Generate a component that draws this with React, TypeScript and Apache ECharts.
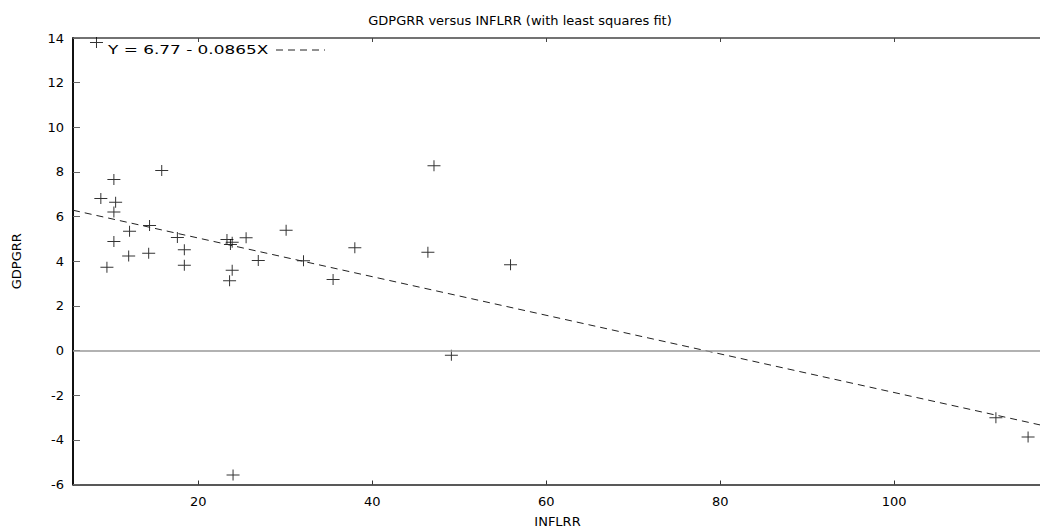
import React, { useEffect, useRef } from "react";
import * as echarts from "echarts";

const INFLRR = [8.3, 8.8, 10.3, 10.5, 10.3, 15.8, 14.4, 12.1, 10.3, 12.0, 14.3, 9.5, 17.6, 18.4, 18.4, 23.3, 23.9, 23.7, 25.5, 23.9, 23.6, 26.9, 30.1, 32.1, 35.5, 38.0, 47.1, 46.4, 55.9, 49.1, 111.7, 115.4, 24.0];
const GDPGRR = [13.8, 6.81, 7.66, 6.64, 6.21, 8.06, 5.6, 5.34, 4.88, 4.24, 4.36, 3.73, 5.06, 4.52, 3.82, 4.97, 4.85, 4.75, 5.05, 3.6, 3.13, 4.03, 5.39, 4.02, 3.18, 4.6, 8.28, 4.4, 3.84, -0.21, -3.01, -3.87, -5.58];
const X_TICKS = [20, 40, 60, 80, 100];
const X_MIN = 5.6;
const X_MAX = 117;
const Y_MIN = -6;
const Y_MAX = 14;
const FIT_INTERCEPT = 6.77;
const FIT_SLOPE = -0.0865;
const TITLE = "GDPGRR versus INFLRR (with least squares fit)";
const FIT_LABEL = "Y = 6.77 - 0.0865X";

const FONT = "DejaVu Sans";

export default function App() {
  const ref = useRef<HTMLDivElement>(null);
  useEffect(() => {
    if (!ref.current) return;
    const chart = echarts.init(ref.current, null, { renderer: "svg" });
    const points = INFLRR.map((x, i) => [x, GDPGRR[i]]);
    const fit = [X_MIN, X_MAX].map((x) => [x, FIT_INTERCEPT + FIT_SLOPE * x]);
    const axisLabelStyle = { color: "#000", fontFamily: FONT, fontSize: 13 };
    chart.setOption({
      animation: false,
      backgroundColor: "#fff",
      title: {
        text: TITLE,
        left: "center",
        top: 9,
        textStyle: { color: "#000", fontFamily: FONT, fontSize: 13, fontWeight: "normal" },
      },
      grid: { left: 73, right: -2, top: 38, bottom: 42.5, containLabel: false, outerBoundsMode: "none" },
      xAxis: [
        {
          type: "value",
          min: X_MIN,
          max: X_MAX,
          position: "bottom",
          name: "INFLRR",
          nameLocation: "middle",
          nameGap: 30,
          nameTextStyle: { color: "#000", fontFamily: FONT, fontSize: 13 },
          axisLine: { show: true, onZero: false, lineStyle: { color: "#222", width: 1.5 } },
          axisTick: { show: true, inside: true, length: 4, customValues: X_TICKS, lineStyle: { color: "#333" } },
          axisLabel: { ...axisLabelStyle, margin: 10, customValues: X_TICKS },
          splitLine: { show: false },
        },
        {
          type: "value",
          min: X_MIN,
          max: X_MAX,
          position: "top",
          axisLine: { show: true, onZero: false, lineStyle: { color: "#444", width: 1.5 } },
          axisTick: { show: true, inside: true, length: 4, customValues: X_TICKS, lineStyle: { color: "#444" } },
          axisLabel: { show: false },
          splitLine: { show: false },
        },
      ],
      yAxis: {
        type: "value",
        min: Y_MIN,
        max: Y_MAX,
        interval: 2,
        name: "GDPGRR",
        nameLocation: "middle",
        nameGap: 50,
        nameRotate: 90,
        nameTextStyle: { color: "#000", fontFamily: FONT, fontSize: 13 },
        axisLine: { show: true, onZero: false, lineStyle: { color: "#111", width: 2 } },
        axisTick: { show: true, inside: true, length: 7, lineStyle: { color: "#666" } },
        axisLabel: { ...axisLabelStyle, margin: 9 },
        splitLine: { show: false },
      },
      series: [
        {
          type: "line",
          data: fit,
          symbol: "none",
          lineStyle: { color: "#222", width: 1, type: [7, 5] },
          silent: true,
          markLine: {
            silent: true,
            symbol: "none",
            label: { show: false },
            lineStyle: { color: "#999", width: 1.5, type: "solid" },
            data: [{ yAxis: 0 }],
          },
        },
        {
          type: "scatter",
          data: points,
          symbol: "path://M0,5H13V6H0Z M6,0H7V11H6Z",
          symbolSize: [13, 11],
          itemStyle: { color: "#000" },
        },
      ],
      graphic: [
        {
          type: "text",
          x: 108,
          y: 43,
          scaleX: 1.3,
          style: { text: FIT_LABEL, fill: "#000", fontFamily: FONT, fontSize: 13 },
        },
        {
          type: "line",
          shape: { x1: 276, y1: 50, x2: 325, y2: 50 },
          style: { stroke: "#222", lineWidth: 1, lineDash: [7, 5] },
        },
      ],
    });
    return () => chart.dispose();
  }, []);
  return (
    <div
      ref={ref}
      style={{ position: "absolute", left: 0, top: 0, width: 1040, height: 527 }}
    />
  );
}
